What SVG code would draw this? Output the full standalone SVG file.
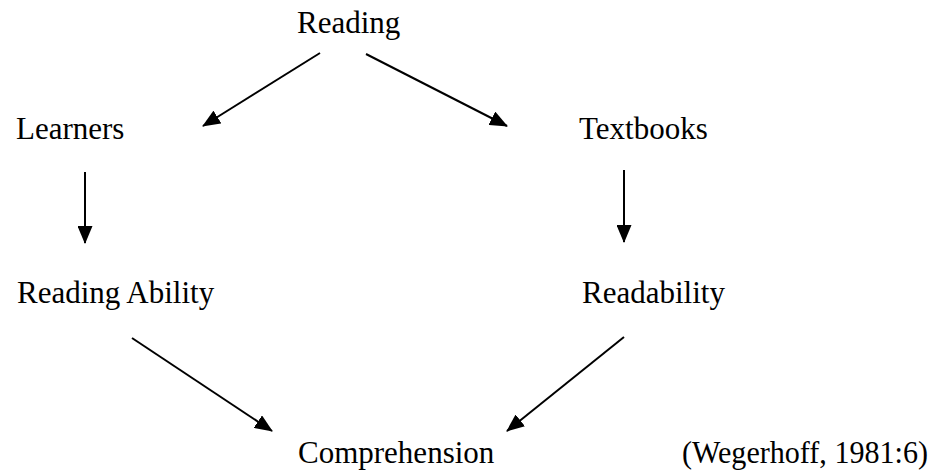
<svg xmlns="http://www.w3.org/2000/svg" width="934" height="475" viewBox="0 0 934 475">
<style>
text{font-family:"Liberation Serif","Times New Roman",serif;font-size:31px;fill:#000}
.c line{stroke:#000;stroke-width:2;fill:none}
</style>
<defs>
<marker id="ah" markerUnits="userSpaceOnUse" markerWidth="18" markerHeight="15" refX="17" refY="7.5" orient="auto" viewBox="0 0 18 15">
<path d="M0,0 L18,7.5 L0,15 z" fill="#000"/>
</marker>
</defs>
<rect width="934" height="475" fill="#fff"/>
<g class="c" id="connectors">
<line x1="320" y1="53" x2="203" y2="126" marker-end="url(#ah)"/>
<line x1="366" y1="54" x2="507" y2="126" marker-end="url(#ah)"/>
<line x1="85" y1="172" x2="85" y2="243" marker-end="url(#ah)"/>
<line x1="624" y1="170" x2="624" y2="242" marker-end="url(#ah)"/>
<line x1="132" y1="338" x2="272" y2="431" marker-end="url(#ah)"/>
<line x1="624" y1="337" x2="507" y2="431" marker-end="url(#ah)"/>
</g>
<g id="reading"><text x="297" y="33">Reading</text></g>
<g id="learners"><text x="16" y="139">Learners</text></g>
<g id="textbooks"><text x="579" y="139">Textbooks</text></g>
<g id="reading-ability"><text x="17" y="303">Reading Ability</text></g>
<g id="readability"><text x="582" y="303">Readability</text></g>
<g id="comprehension"><text x="298" y="463">Comprehension</text></g>
<g id="citation"><text x="682" y="463" textLength="246" lengthAdjust="spacingAndGlyphs">(Wegerhoff, 1981:6)</text></g>
</svg>
